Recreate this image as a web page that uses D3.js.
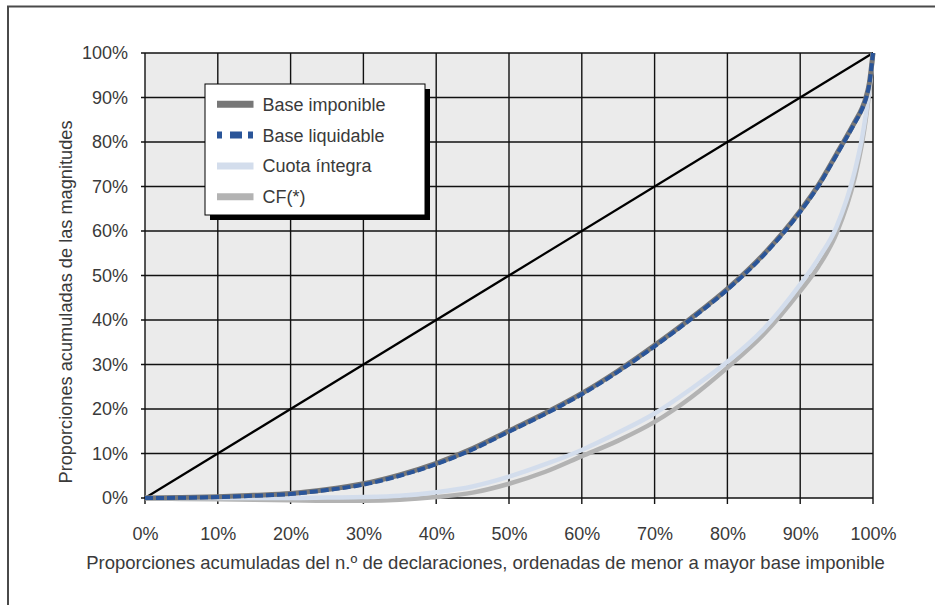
<!DOCTYPE html>
<html><head><meta charset="utf-8">
<script src="https://cdn.jsdelivr.net/npm/d3@7"></script>
<style>
body{margin:0;background:#fff;}
svg text{font-family:"Liberation Sans",Arial,Helvetica,sans-serif;fill:#3a3a3a;}
</style></head>
<body><svg id="c" width="935" height="605"></svg>
<script>
const xPct      = [0,5,10,15,20,25,30,35,40,45,50,55,60,65,70,75,80,85,90,92.5,95,97.5,98.5,99,99.5,100];
const baseImp   = [0,0.1,0.3,0.6,1.0,1.9,3.2,5.2,7.8,11.1,15.1,19.1,23.5,28.6,34.3,40.4,47.0,54.8,64.5,70.3,77.3,84.5,87.6,89.8,93.3,100];
const baseLiq   = [0,0.05,0.2,0.5,0.9,1.8,3.0,5.0,7.6,10.9,14.9,18.9,23.3,28.4,34.1,40.2,46.8,54.6,64.3,70.1,77.1,84.3,87.4,89.6,93.1,100];
const cuota     = [0,0,0,0,0,0.1,0.2,0.5,1.3,2.6,4.8,7.6,10.8,14.7,19.0,24.5,30.6,38.0,48.0,53.8,61.0,73.5,81.0,86.0,92.0,100];
const cf        = [0,-0.2,-0.3,-0.4,-0.5,-0.6,-0.6,-0.4,0.2,1.2,3.2,5.9,9.4,12.9,17.1,22.6,29.3,36.8,46.5,52.0,59.5,72.0,79.8,85.0,91.5,100];
const ticks     = [0,10,20,30,40,50,60,70,80,90,100];
const seriesNames = ["Base imponible","Base liquidable","Cuota íntegra","CF(*)"];
const xTitle = "Proporciones acumuladas del n.º de declaraciones, ordenadas de menor a mayor base imponible";
const yTitle = "Proporciones acumuladas de las magnitudes";

const svg = d3.select("#c");
const L=145, R=873, T=53, B=498;
const x = d3.scaleLinear().domain([0,100]).range([L,R]);
const y = d3.scaleLinear().domain([0,100]).range([B,T]);

// outer frame
svg.append("path").attr("d","M8,605 L8,6.5 L935,6.5").attr("fill","none").attr("stroke","#4a4a4a").attr("stroke-width",2);

// plot bg
svg.append("rect").attr("x",L).attr("y",T).attr("width",R-L).attr("height",B-T).attr("fill","#ebebeb");

// grid
const g = svg.append("g");
ticks.forEach(t=>{
  g.append("line").attr("x1",x(t)).attr("x2",x(t)).attr("y1",T).attr("y2",B+6).attr("stroke","#111").attr("stroke-width",1.4);
  g.append("line").attr("x1",L-4).attr("x2",R).attr("y1",y(t)).attr("y2",y(t)).attr("stroke","#111").attr("stroke-width",1.4);
});

// axes labels via d3 axes
const xAxis = svg.append("g").attr("transform",`translate(0,${B})`)
  .call(d3.axisBottom(x).tickValues(ticks).tickFormat(d=>d+"%").tickSize(0).tickPadding(29));
const yAxis = svg.append("g").attr("transform",`translate(${L},0)`)
  .call(d3.axisLeft(y).tickValues(ticks).tickFormat(d=>d+"%").tickSize(0).tickPadding(17));
[xAxis,yAxis].forEach(a=>{a.select(".domain").remove();a.selectAll("text").attr("font-size",18).attr("fill","#3a3a3a").style("font-family","Liberation Sans, Arial, sans-serif");});

// diagonal
svg.append("line").attr("x1",x(0)).attr("y1",y(0)).attr("x2",x(100)).attr("y2",y(100)).attr("stroke","#000").attr("stroke-width",2.2);

const line = d3.line().x((d,i)=>x(xPct[i])).y(d=>y(d)).curve(d3.curveMonotoneX);
const styles = [
  {data:cf, color:"#b3b3b3", w:4.5, dash:null},
  {data:cuota, color:"#d3ddec", w:4.5, dash:null},
  {data:baseImp, color:"#777777", w:5, dash:null},
  {data:baseLiq, color:"#2a5599", w:4, dash:"8,3"}
];
styles.forEach(s=>{
  svg.append("path").attr("d",line(s.data)).attr("fill","none").attr("stroke",s.color)
    .attr("stroke-width",s.w).attr("stroke-dasharray",s.dash);
});

// legend
const lg = svg.append("g");
lg.append("rect").attr("x",210).attr("y",89).attr("width",220).attr("height",131).attr("fill","#000");
lg.append("rect").attr("x",205).attr("y",84).attr("width",220).attr("height",131).attr("fill","#fff").attr("stroke","#000").attr("stroke-width",1);
const legStyles = [
  {name:seriesNames[0], color:"#777777", dash:null},
  {name:seriesNames[1], color:"#2a5599", dash:"5,8,12,6"},
  {name:seriesNames[2], color:"#d3ddec", dash:null},
  {name:seriesNames[3], color:"#b3b3b3", dash:null}
];
legStyles.forEach((s,i)=>{
  const yy = 104.3 + i*30.8;
  lg.append("line").attr("x1",217).attr("x2",253.5).attr("y1",yy).attr("y2",yy).attr("stroke",s.color).attr("stroke-width",7).attr("stroke-dasharray",s.dash);
  lg.append("text").attr("x",262.5).attr("y",yy+6.5).attr("font-size",18).text(s.name);
});

// titles
svg.append("text").attr("x",485.5).attr("y",569).attr("text-anchor","middle").attr("font-size",18.5).text(xTitle);
svg.append("text").attr("transform","translate(72,302) rotate(-90)").attr("text-anchor","middle").attr("font-size",18.2).text(yTitle);
</script></body></html>
